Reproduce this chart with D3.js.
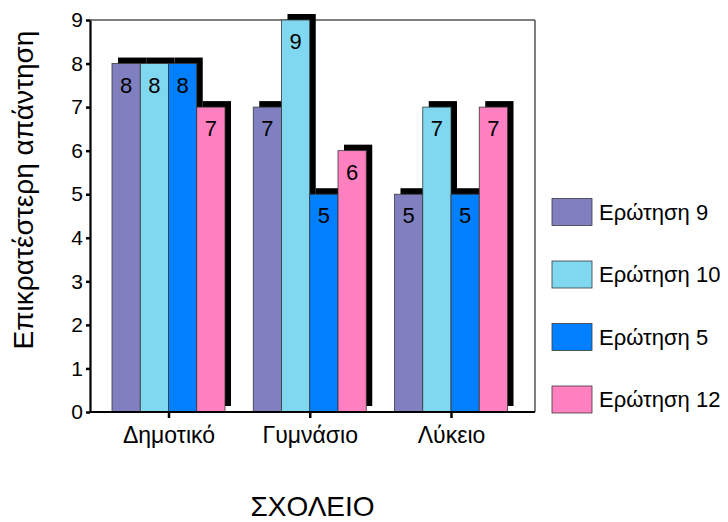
<!DOCTYPE html>
<html><head><meta charset="utf-8">
<script src="https://cdn.jsdelivr.net/npm/d3@7"></script>
<style>body{margin:0;background:#fff}svg{display:block}text{font-family:"Liberation Sans",Arial,sans-serif;fill:#000}</style>
</head><body>
<script>
const categories = ["Δημοτικό", "Γυμνάσιο", "Λύκειο"];
const seriesNames = ["Ερώτηση 9", "Ερώτηση 10", "Ερώτηση 5", "Ερώτηση 12"];
const q9  = [8, 7, 5];
const q10 = [8, 9, 7];
const q5  = [8, 5, 5];
const q12 = [7, 6, 7];
const yTicks = [0,1,2,3,4,5,6,7,8,9];
const colors = ["#8080c0", "#80d8f0", "#0080ff", "#ff80c0"];
const seriesValues = [q9, q10, q5, q12];

const W = 728, H = 522;
const pLeft = 90, pRight = 535, pTop = 20, pBottom = 412;
const svg = d3.select("body").append("svg").attr("width", W).attr("height", H);

const y = d3.scaleLinear().domain([0, 9]).range([pBottom, pTop]);
const x = d3.scalePoint().domain(categories).range([168.5, 451]);
const xs = d3.scaleBand().domain(seriesNames).range([-56.5, 56.5]);

const data = [];
categories.forEach((c, ci) => seriesNames.forEach((s, si) => data.push({c, s, si, v: seriesValues[si][ci]})));

const dx = 6, dy = -6;
// frame top/right
svg.append("line").attr("x1", pLeft).attr("x2", pRight).attr("y1", pTop).attr("y2", pTop).attr("stroke", "#555").attr("stroke-width", 1.5);
svg.append("line").attr("x1", pRight).attr("x2", pRight).attr("y1", pTop).attr("y2", pBottom).attr("stroke", "#555").attr("stroke-width", 1.5);

// shadows
svg.append("g").selectAll("rect").data(data).join("rect")
  .attr("x", d => x(d.c) + xs(d.s) + dx)
  .attr("y", d => y(d.v) + dy)
  .attr("width", xs.bandwidth())
  .attr("height", d => y(0) - y(d.v))
  .attr("fill", "#000");
// bars
svg.append("g").selectAll("rect").data(data).join("rect")
  .attr("x", d => x(d.c) + xs(d.s))
  .attr("y", d => y(d.v))
  .attr("width", xs.bandwidth())
  .attr("height", d => y(0) - y(d.v))
  .attr("fill", d => colors[d.si])
  .attr("stroke", "#3a3a3a").attr("stroke-width", 0.8);
// value labels
svg.append("g").selectAll("text").data(data).join("text")
  .attr("x", d => x(d.c) + xs(d.s) + xs.bandwidth() / 2)
  .attr("y", d => y(d.v) + 29)
  .attr("text-anchor", "middle")
  .attr("font-size", 22)
  .text(d => d.v);

// y axis
const ya = svg.append("g").attr("transform", `translate(${pLeft},0)`)
  .call(d3.axisLeft(y).tickValues(yTicks).tickFormat(d3.format("d")).tickSize(4).tickPadding(3).tickSizeOuter(0));
ya.select(".domain").attr("stroke", "#000").attr("stroke-width", 2.2);
ya.selectAll(".tick line").attr("stroke", "#000").attr("stroke-width", 2.5);
ya.selectAll(".tick text").attr("font-size", 21).attr("font-family", '"Liberation Sans",Arial,sans-serif').attr("fill", "#000");

// x axis
const xa = svg.append("g").attr("transform", `translate(0,${pBottom})`)
  .call(d3.axisBottom(x).tickSize(6).tickPadding(9).tickSizeOuter(0));
xa.select(".domain").attr("d", `M${pLeft},0H${pRight}`).attr("stroke", "#000").attr("stroke-width", 2.2);
xa.selectAll(".tick line").attr("stroke", "#000").attr("stroke-width", 2.5);
xa.selectAll(".tick text").attr("font-size", 23).attr("font-family", '"Liberation Sans",Arial,sans-serif').attr("fill", "#000")
  .attr("dy", null).attr("y", 31);

// titles
svg.append("text").attr("x", 312.5).attr("y", 516).attr("text-anchor", "middle").attr("font-size", 28).text("ΣΧΟΛΕΙΟ");
svg.append("text").attr("transform", "translate(33,190) rotate(-90)").attr("text-anchor", "middle").attr("font-size", 28).text("Επικρατέστερη απάντηση");

// legend
const lg = svg.append("g").selectAll("g").data(seriesNames).join("g")
  .attr("transform", (d, i) => `translate(552,${198.5 + i * 62.5})`);
lg.append("rect").attr("width", 40).attr("height", 27).attr("fill", (d, i) => colors[i]).attr("stroke", "#3a3a3a").attr("stroke-width", 0.8);
lg.append("text").attr("x", 47).attr("y", 13.5).attr("dy", "0.35em").attr("font-size", 22).text(d => d);
</script>
</body></html>
